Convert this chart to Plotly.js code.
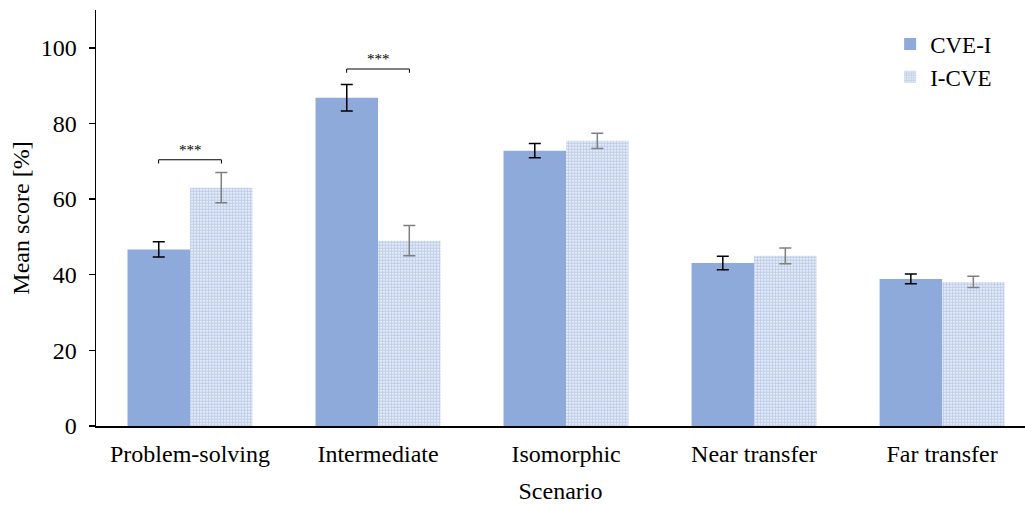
<!DOCTYPE html>
<html><head><meta charset="utf-8">
<script src="https://cdn.plot.ly/plotly-3.0.1.min.js"></script>
<style>html,body{margin:0;padding:0;background:#fff;}#chart{width:1025px;height:505px;}</style>
</head><body><div id="chart"></div>
<script>
const categories = ["Problem-solving", "Intermediate", "Isomorphic", "Near transfer", "Far transfer"];
const seriesNames = ["CVE-I", "I-CVE"];
const cveI = [46.7, 86.8, 72.8, 43.1, 38.9];
const cveIErr = [2.0, 3.5, 1.9, 1.8, 1.3];
const iCve = [63.0, 49.0, 75.4, 45.0, 38.1];
const iCveErr = [4.0, 4.0, 2.0, 2.1, 1.5];
const yTicks = [0, 20, 40, 60, 80, 100];
// significance brackets: [category index, bracket height, label]
const sigCats = [0, 1];
const sigHeights = [70.4, 94.4];
const sigLabels = ["***", "***"];

const font = "Liberation Serif, Times New Roman, serif";
const blue = "#8eaadb";

const traces = [
  {type: "bar", name: seriesNames[0], x: categories, y: cveI,
   marker: {color: blue, line: {width: 0}},
   error_y: {type: "data", array: cveIErr, visible: true, color: "#000", thickness: 1.5, width: 6}},
  {type: "bar", name: seriesNames[1], x: categories, y: iCve,
   marker: {color: "#fff", line: {width: 0},
            pattern: {shape: ".", fgcolor: "#7f9fd6", bgcolor: "#ffffff", size: 3, solidity: 0.75, fillmode: "overlay"}},
   error_y: {type: "data", array: iCveErr, visible: true, color: "#7f7f7f", thickness: 1.5, width: 6}}
];

const off = 0.167;
const shapes = [];
const annotations = [];
sigCats.forEach((c, i) => {
  const h = sigHeights[i];
  shapes.push({type: "path", xref: "x", yref: "y",
    path: `M ${c - off} ${h - 1} L ${c - off} ${h} L ${c + off} ${h} L ${c + off} ${h - 1}`,
    line: {color: "#000", width: 1}});
  annotations.push({x: c, y: h, xref: "x", yref: "y", text: sigLabels[i], showarrow: false,
    yanchor: "bottom", yshift: 0, font: {family: font, size: 15, color: "#000"}});
});

const layout = {
  width: 1025, height: 505,
  margin: {l: 96, r: 0, t: 10, b: 79},
  paper_bgcolor: "#fff", plot_bgcolor: "#fff",
  font: {family: font, color: "#000", size: 24},
  barmode: "group", bargap: 0.335, bargroupgap: 0,
  showlegend: true,
  legend: {x: 0.97, y: 0.97, xanchor: "right", yanchor: "top", font: {family: font, size: 23},
           bgcolor: "rgba(0,0,0,0)", itemwidth: 30, tracegroupgap: 2},
  xaxis: {type: "category", range: [-0.5, 4.441], showline: true, linecolor: "#000", linewidth: 1.5,
          ticks: "outside", ticklen: 6, tickcolor: "rgba(0,0,0,0)", tickfont: {family: font, size: 24},
          showgrid: false, zeroline: false,
          title: {text: "Scenario", font: {family: font, size: 24}, standoff: 16}},
  yaxis: {range: [0, 110], tickvals: yTicks, ticktext: yTicks.map(String), showline: true, linecolor: "#000",
          linewidth: 1.5, ticks: "outside", ticklen: 6, tickcolor: "#000", tickwidth: 1.5,
          ticklabelstandoff: 7,
          showgrid: false, zeroline: false, tickfont: {family: font, size: 24},
          title: {text: "Mean score [%]", font: {family: font, size: 24}, standoff: 4}},
  shapes: shapes, annotations: annotations
};

Plotly.newPlot("chart", traces, layout, {displayModeBar: false, staticPlot: true});
</script></body></html>
